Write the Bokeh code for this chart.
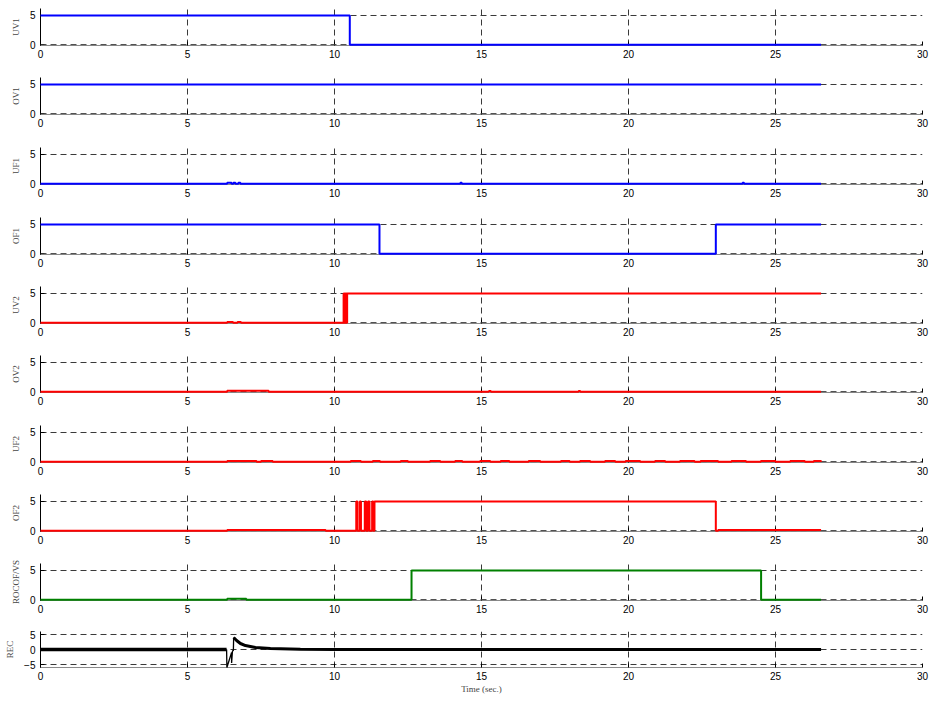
from bokeh.plotting import figure
from bokeh.layouts import column
from bokeh.models import FixedTicker, Range1d, Span
from bokeh.embed import file_html
from bokeh.resources import INLINE

# ---------------------------------------------------------------- data
# Relay flags are step signals: change times (s) and the level held from each time on.
T_END = 26.55

uv1_t = [0.0, 10.52]
uv1_v = [5, 0]

ov1_t = [0.0]
ov1_v = [5]

uf1_t = [0.0, 6.35, 6.50, 6.56, 6.63, 6.73, 6.80, 14.28, 14.33, 23.88, 23.93]
uf1_v = [0, 0.15, 0, 0.15, 0, 0.15, 0, 0.15, 0, 0.15, 0]

of1_t = [0.0, 11.53, 22.97]
of1_v = [5, 0, 5]

uv2_t = [0.0, 6.35, 6.55, 6.70, 6.82, 10.31, 10.33, 10.35, 10.37, 10.39, 10.41, 10.43]
uv2_v = [0, 0.12, 0, 0.12, 0, 5, 0, 5, 0, 5, 0, 5]

ov2_t = [0.0, 6.35, 7.76, 15.25, 15.32, 18.30, 18.36]
ov2_v = [0, 0.15, 0, 0.12, 0, 0.12, 0]

# UF2 chatter: short intervals where the flag flickers just above zero
uf2_on = [6.35, 7.50, 10.55, 11.30, 12.25, 13.25, 14.10, 14.95, 15.65, 16.60, 17.70,
          18.35, 19.20, 19.90, 20.90, 21.75, 22.45, 23.50, 24.50, 25.50, 26.30]
uf2_off = [7.35, 7.90, 10.90, 11.55, 12.50, 13.60, 14.35, 15.30, 15.95, 17.00, 18.00,
           18.70, 19.55, 20.40, 21.25, 22.25, 23.05, 24.00, 25.00, 26.00, 26.55]
uf2_level = 0.12

of2_t = [0.0, 6.35, 9.70, 10.74, 10.78, 10.86, 10.90, 11.03, 11.08, 11.14, 11.19,
         11.28, 11.32, 11.36, 22.97, 23.05]
of2_v = [0, 0.1, 0, 5, 0, 5, 0, 5, 0, 5, 0, 5, 0, 5, 0, 0.12]

rocof_t = [0.0, 6.35, 7.00, 12.62, 24.51]
rocof_v = [0, 0.15, 0, 5, 0]

# REC is an analogue trace (time, value): steady part, the disturbance, the recovery
rec_pre_t = [0.0, 6.33]
rec_pre_v = [0.0, 0.0]
rec_event_t = [6.33, 6.34, 6.42, 6.50, 6.50, 6.53, 6.56, 6.57]
rec_event_v = [0.0, -6.0, -3.5, -1.0, -4.5, -0.5, -0.3, 4.0]
rec_post_t = [6.57, 6.67, 6.80, 6.97, 7.31, 7.82, 8.84, 10.0, T_END]
rec_post_v = [4.0, 3.0, 2.0, 1.3, 0.7, 0.3, 0.05, 0.0, 0.0]

x_ticks = [0, 5, 10, 15, 20, 25, 30]

# ------------------------------------------------------------- helpers
def chatter(on, off, level):
    t, v = [0.0], [0]
    for a, b in zip(on, off):
        t += [a, b]
        v += [level, 0]
    return t, v


def closed(t, v):
    return list(t) + [T_END], list(v) + [v[-1]]


uf2_t, uf2_v = chatter(uf2_on, uf2_off, uf2_level)

BLUE, RED, GREEN = "#0000ff", "#ff0000", "#008000"
panels = [
    ("UV1", uv1_t, uv1_v, BLUE),
    ("OV1", ov1_t, ov1_v, BLUE),
    ("UF1", uf1_t, uf1_v, BLUE),
    ("OF1", of1_t, of1_v, BLUE),
    ("UV2", uv2_t, uv2_v, RED),
    ("OV2", ov2_t, ov2_v, RED),
    ("UF2", uf2_t, uf2_v, RED),
    ("OF2", of2_t, of2_v, RED),
    ("ROCOF/VS", rocof_t, rocof_v, GREEN),
]

heights = [69, 70, 70, 69, 69, 70, 69, 69, 69]
DASH = "6 4"
GRID_COLOR = "#3a3a3a"


def base_figure(h, top, bottom, yr, yticks, ylabel):
    p = figure(width=930, height=h, x_range=Range1d(0, 30), y_range=Range1d(*yr),
               output_backend="svg", toolbar_location=None,
               min_border_left=40, min_border_right=8,
               min_border_top=top, min_border_bottom=bottom)
    p.outline_line_color = None
    p.background_fill_color = "white"
    p.border_fill_color = "white"

    p.xaxis.ticker = FixedTicker(ticks=x_ticks)
    p.yaxis.ticker = FixedTicker(ticks=yticks)
    for ax in (p.xaxis, p.yaxis):
        ax.major_tick_in = 4
        ax.major_tick_out = 0
        ax.minor_tick_line_color = None
        ax.major_label_text_font = "Liberation Sans"
        ax.major_label_text_font_size = "10px"
        ax.major_label_text_color = "black"
        ax.major_tick_line_color = "black"
    p.xaxis.major_label_standoff = 4
    p.xaxis.axis_line_color = "#8a8a8a"
    p.yaxis.axis_line_color = "black"
    p.yaxis.major_label_standoff = 5

    p.yaxis.axis_label = ylabel
    p.yaxis.axis_label_text_font = "Liberation Serif"
    p.yaxis.axis_label_text_font_size = "9px"
    p.yaxis.axis_label_text_font_style = "normal"
    p.yaxis.axis_label_standoff = 6

    p.xgrid.ticker = FixedTicker(ticks=x_ticks[1:])
    p.ygrid.ticker = FixedTicker(ticks=[t for t in yticks if t != 0])
    for g in (p.xgrid, p.ygrid):
        g.grid_line_color = GRID_COLOR
        g.grid_line_dash = DASH
        g.grid_line_width = 1
    # dashed zero line over the axis
    p.add_layout(Span(location=0, dimension="width", line_color=GRID_COLOR,
                      line_dash=DASH, line_width=1))
    return p


figs = []
for (name, t, v, color), h in zip(panels, heights):
    p = base_figure(h, 8, h - 45, (-0.15, 6.2), [0, 5], name)
    tt, vv = closed(t, v)
    p.step(tt, vv, mode="after", line_color=color, line_width=2, level="overlay")
    figs.append(p)

# REC panel with the time axis
rec = base_figure(78, 7, 35, (-6, 6), [-5, 0, 5], "REC")
rec.line(rec_pre_t, rec_pre_v, line_color="black", line_width=3.5, level="overlay")
rec.line(rec_event_t, rec_event_v, line_color="black", line_width=1.3, level="overlay")
rec.line(rec_post_t, rec_post_v, line_color="black", line_width=3, level="overlay")
rec.xaxis.axis_label = "Time (sec.)"
rec.xaxis.axis_label_text_font = "Liberation Serif"
rec.xaxis.axis_label_text_font_size = "9px"
rec.xaxis.axis_label_text_font_style = "normal"
rec.xaxis.axis_label_standoff = 1
figs.append(rec)

layout = column(*figs, spacing=0)
open("out.html", "w").write(file_html(layout, INLINE))
